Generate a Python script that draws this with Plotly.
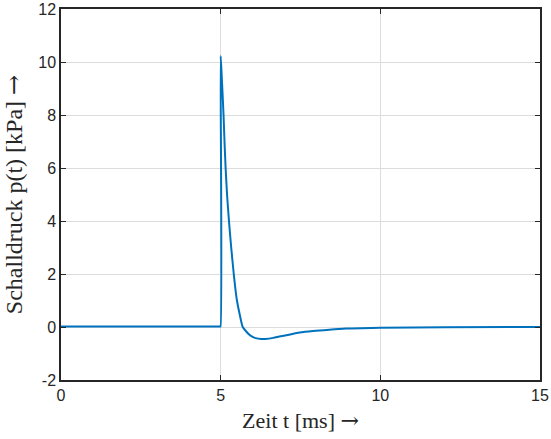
import plotly.graph_objects as go

# time in ms, pressure in kPa
t_ms = [0.0, 2.5, 4.98, 4.995, 5.0, 5.035, 5.09, 5.12, 5.155, 5.2, 5.26, 5.33, 5.41, 5.46, 5.51,
        5.6, 5.69, 5.8, 5.9, 6.0, 6.1, 6.27, 6.4, 6.65, 6.84, 7.1, 7.47, 7.89,
        8.4, 8.93, 9.4, 10.0, 12.0, 15.0]
p_kpa = [0.02, 0.02, 0.02, 0.02, 10.23, 9.41, 8.0, 7.0, 6.0, 5.0, 4.0, 3.0, 2.0, 1.45, 1.0,
         0.45, 0.0, -0.17, -0.29, -0.37, -0.42, -0.45, -0.45, -0.41, -0.36, -0.3, -0.21, -0.15,
         -0.1, -0.06, -0.045, -0.03, -0.01, 0.0]

x_ticks = [0, 5, 10, 15]
x_ticktext = ["0", "5", "10", "15"]
y_ticks = [-2, 0, 2, 4, 6, 8, 10, 12]
y_ticktext = ["-2", "0", "2", "4", "6", "8", "10", "12"]

arrow = '<span style="font-family:DejaVu Serif">→</span>'

fig = go.Figure()
fig.add_trace(go.Scatter(x=t_ms, y=p_kpa, mode="lines",
                         line=dict(color="#0072BD", width=2, shape="spline", smoothing=0.6),
                         showlegend=False))

axis_common = dict(
    showline=True, linecolor="#262626", linewidth=1.5, mirror="ticks",
    ticks="inside", ticklen=5, tickwidth=1, tickcolor="#262626",
    showgrid=True, gridcolor="#dcdcdc", gridwidth=1, zeroline=False,
    automargin=False, ticklabeloverflow="allow",
    tickfont=dict(family="Liberation Sans, Arial, sans-serif", size=16, color="#262626"),
)

fig.update_xaxes(range=[0, 15], tickvals=x_ticks, ticktext=x_ticktext,
                 title=dict(text="Zeit t [ms] " + arrow + "\u00a0\u00a0", standoff=10,
                            font=dict(family="Liberation Serif, serif", size=22, color="#262626")),
                 **axis_common)
fig.update_yaxes(range=[-2, 12], tickvals=y_ticks, ticktext=y_ticktext,
                 title=dict(text="Schalldruck p(t) [kPa] " + arrow, standoff=12,
                            font=dict(family="Liberation Serif, serif", size=24, color="#262626")),
                 **axis_common)

fig.update_layout(width=551, height=439, margin=dict(l=61, r=11, t=9, b=59),
                  plot_bgcolor="white", paper_bgcolor="white")

# remove the default 8px page margin so the figure sits at the window's top-left corner
fig.write_html("out.html", config={"displayModeBar": False},
               post_script="document.body.style.margin='0';")
